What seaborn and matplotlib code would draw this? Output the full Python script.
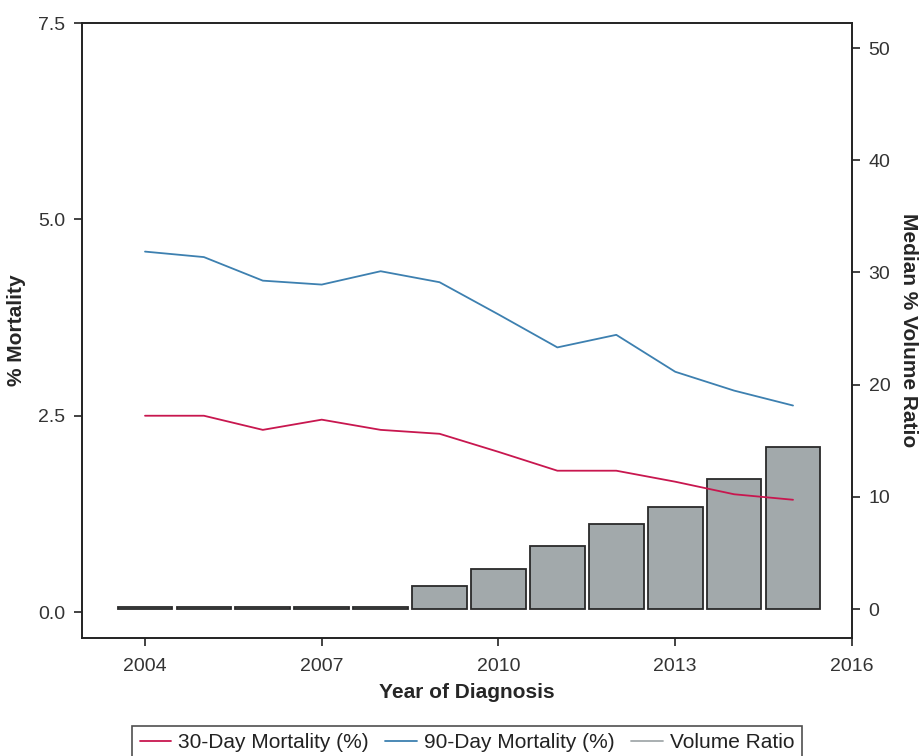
import matplotlib
matplotlib.use("Agg")
import matplotlib.pyplot as plt
import pandas as pd
import seaborn as sns

years = [2004, 2005, 2006, 2007, 2008, 2009, 2010, 2011, 2012, 2013, 2014, 2015]
mort_30 = [2.50, 2.50, 2.32, 2.45, 2.32, 2.27, 2.04, 1.80, 1.80, 1.66, 1.50, 1.43]
mort_90 = [4.59, 4.52, 4.22, 4.17, 4.34, 4.20, 3.79, 3.37, 3.53, 3.06, 2.82, 2.63]
volume_ratio = [0.2, 0.2, 0.2, 0.2, 0.2, 2.05, 3.6, 5.6, 7.55, 9.1, 11.55, 14.4]

RED = "#c8174f"
BLUE = "#3d80b0"
GRAY = "#a2a9ab"

sns.set_style("ticks")
plt.rcParams["font.family"] = ["Liberation Sans", "DejaVu Sans"]
plt.rcParams["axes.edgecolor"] = "#222222"
plt.rcParams["xtick.color"] = "#222222"
plt.rcParams["ytick.color"] = "#222222"

df = pd.DataFrame({"year": years, "m30": mort_30, "m90": mort_90, "vol": volume_ratio})

fig = plt.figure(figsize=(9.21, 7.56), dpi=100)
ax = fig.add_axes([0.089, 0.156, 0.836, 0.8135])
ax2 = ax.twinx()

sns.barplot(data=df, x="year", y="vol", ax=ax2, native_scale=True, width=0.93,
            color=GRAY, saturation=1, edgecolor="#2a2a2a", linewidth=1.3)
sns.lineplot(data=df, x="year", y="m30", ax=ax, color=RED, linewidth=1.3)
sns.lineplot(data=df, x="year", y="m90", ax=ax, color=BLUE, linewidth=1.3)

ax.set_zorder(ax2.get_zorder() + 1)
ax.patch.set_visible(False)

ax.set_xlim(2002.93, 2016.0)
ax.set_ylim(-0.331, 7.5)
ax2.set_ylim(-2.59, 52.23)
ax.set_xticks([2004, 2007, 2010, 2013, 2016])
ax.set_yticks([0.0, 2.5, 5.0, 7.5])
ax.set_yticklabels(["0.0", "2.5", "5.0", "7.5"])
ax2.set_yticks([0, 10, 20, 30, 40, 50])

for a in (ax, ax2):
    a.tick_params(labelsize=14, length=6, width=1.2, labelcolor="#333333", pad=6)
    for s in a.spines.values():
        s.set_visible(True)
        s.set_linewidth(1.2)
ax.tick_params(axis="x", pad=8)

ax.set_xlabel("Year of Diagnosis", fontsize=15, fontweight="bold", labelpad=6)
ax.set_ylabel("% Mortality", fontsize=15, fontweight="bold", labelpad=9)
ax2.set_ylabel("Median % Volume Ratio", fontsize=15, fontweight="bold",
               rotation=270, labelpad=20)

handles = [
    plt.Line2D([], [], color=RED, linewidth=1.3),
    plt.Line2D([], [], color=BLUE, linewidth=1.3),
    plt.Line2D([], [], color=GRAY, linewidth=1.3),
]
labels = ["30-Day Mortality (%)", "90-Day Mortality (%)", "Volume Ratio"]
leg = fig.legend(handles, labels, loc="lower center", bbox_to_anchor=(0.507, -0.01),
                 ncol=3, fontsize=15, frameon=True, fancybox=False,
                 handlelength=1.5, handletextpad=0.35, columnspacing=0.8,
                 borderpad=0.35, borderaxespad=0.2)
leg.get_frame().set_edgecolor("#222222")
leg.get_frame().set_linewidth(1.2)
for t in leg.get_texts():
    t.set_color("#222222")

fig.savefig("out.png", dpi=100)
